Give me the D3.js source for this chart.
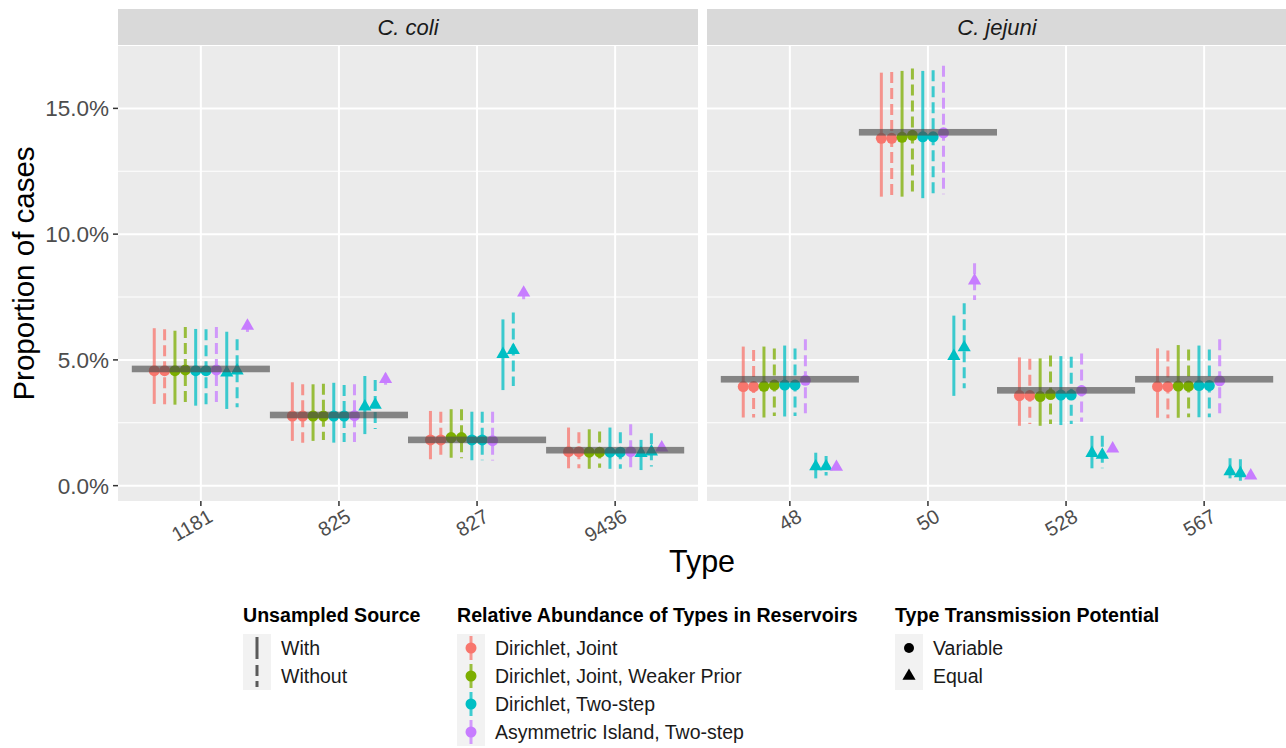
<!DOCTYPE html>
<html>
<head>
<meta charset="utf-8">
<script src="https://cdnjs.cloudflare.com/ajax/libs/d3/7.8.5/d3.min.js"></script>
<style>
  body { margin: 0; background: #ffffff; }
  svg { display: block; font-family: "Liberation Sans", Arial, Helvetica, sans-serif; }
</style>
</head>
<body>
<div id="chart"></div>
<script>
// --- data (percent of cases) ---
var species = ["C. coli", "C. jejuni"];
var typesColi = ["1181", "825", "827", "9436"];
var typesJejuni = ["48", "50", "528", "567"];

// observed proportion per type (grey bars), coli then jejuni
var observedColi = [4.64, 2.81, 1.82, 1.41];
var observedJejuni = [4.23, 14.05, 3.79, 4.23];

var models = ["Dirichlet, Joint", "Dirichlet, Joint, Weaker Prior", "Dirichlet, Two-step", "Asymmetric Island, Two-step"];
var sources = ["With", "Without"];
var potentials = ["Variable", "Equal"];

// one entry per dodged series, left to right inside each type
var seriesModel = [0, 0, 1, 1, 2, 2, 3, 2, 2, 3];
var seriesSource = ["With", "Without", "With", "Without", "With", "Without", "Without", "With", "Without", "Without"];
var seriesPotential = ["Variable", "Variable", "Variable", "Variable", "Variable", "Variable", "Variable", "Equal", "Equal", "Equal"];

// columns: 1181, 825, 827, 9436, 48, 50, 528, 567
var estimate = [
  [4.57, 2.77, 1.82, 1.35, 3.94, 13.81, 3.58, 3.94],
  [4.57, 2.77, 1.82, 1.35, 3.94, 13.81, 3.58, 3.94],
  [4.57, 2.77, 1.91, 1.33, 3.95, 13.85, 3.54, 3.96],
  [4.60, 2.77, 1.91, 1.33, 4.00, 13.93, 3.62, 3.96],
  [4.57, 2.77, 1.82, 1.33, 4.00, 13.87, 3.60, 3.98],
  [4.57, 2.77, 1.82, 1.33, 4.00, 13.87, 3.60, 3.98],
  [4.60, 2.78, 1.79, 1.35, 4.19, 14.03, 3.78, 4.17],
  [4.49, 3.14, 5.23, 1.29, 0.76, 5.15, 1.29, 0.56],
  [4.57, 3.21, 5.39, 1.35, 0.76, 5.49, 1.22, 0.49],
  [6.35, 4.23, 7.67, 1.51, 0.74, 8.15, 1.47, 0.40]
];
var lower = [
  [3.25, 1.78, 1.05, 0.69, 2.71, 11.49, 2.38, 2.70],
  [3.22, 1.71, 1.08, 0.69, 2.71, 11.46, 2.45, 2.68],
  [3.22, 1.78, 1.11, 0.67, 2.71, 11.49, 2.38, 2.70],
  [3.22, 1.82, 1.09, 0.71, 2.77, 11.62, 2.45, 2.72],
  [3.18, 1.71, 1.01, 0.67, 2.75, 11.43, 2.41, 2.72],
  [3.18, 1.74, 1.01, 0.67, 2.77, 11.51, 2.45, 2.72],
  [3.22, 1.74, 1.00, 0.67, 2.88, 11.59, 2.54, 2.88],
  [3.05, 2.05, 3.80, 0.62, 0.29, 3.57, 0.69, 0.29],
  [3.12, 2.25, 3.96, 0.76, 0.40, 3.87, 0.69, 0.20],
  [5.92, 3.91, 7.38, 1.45, 0.68, 7.38, 1.40, 0.35]
];
var upper = [
  [6.26, 4.11, 2.97, 2.31, 5.53, 16.42, 5.10, 5.46],
  [6.22, 4.03, 2.94, 2.12, 5.39, 16.45, 5.05, 5.37],
  [6.16, 4.03, 3.04, 2.24, 5.53, 16.49, 5.06, 5.59],
  [6.31, 4.05, 3.04, 2.15, 5.45, 16.59, 5.17, 5.41],
  [6.23, 4.09, 2.94, 2.31, 5.57, 16.49, 5.15, 5.57],
  [6.22, 4.00, 2.94, 2.12, 5.45, 16.52, 5.13, 5.41],
  [6.31, 4.03, 2.94, 2.44, 5.82, 16.69, 5.25, 5.82],
  [6.12, 4.36, 6.61, 1.82, 1.31, 6.76, 1.98, 1.09],
  [5.82, 4.20, 6.88, 2.08, 1.18, 7.25, 1.98, 1.05],
  [6.55, 4.45, 7.85, 1.58, 0.82, 8.84, 1.55, 0.45]
];

var yTicks = [0, 5, 10, 15];
var yMinor = [2.5, 7.5, 12.5];

// --- layout ---
var W = 1286, H = 748;
var panelW = 580;
var panelLeft = [118, 707];
var panelTop = 46, panelBottom = 501;
var stripTop = 9;

var colors = ["#F8766D", "#7CAE00", "#00BFC4", "#C77CFF"];
var dashes = { "With": null, "Without": "11,5" };

var svg = d3.select("#chart")
  .append("svg")
  .attr("width", W)
  .attr("height", H);

var y = d3.scaleLinear()
  .domain([-0.61, 17.48])
  .range([panelBottom, panelTop]);

var panelTypes = [typesColi, typesJejuni];
var panelObserved = [observedColi, observedJejuni];
var nSeries = seriesModel.length;
var dodgeWidth = 0.75;

species.forEach(function(sp, p) {
  var types = panelTypes[p];
  var x = d3.scalePoint()
    .domain(types)
    .range([0, panelW])
    .padding(0.6);
  var step = x.step();

  var g = svg.append("g")
    .attr("transform", "translate(" + panelLeft[p] + ",0)");

  // strip
  g.append("rect")
    .attr("x", 0).attr("y", stripTop)
    .attr("width", panelW).attr("height", panelTop - stripTop - 1)
    .attr("fill", "#D9D9D9");
  g.append("text")
    .attr("x", panelW / 2).attr("y", 35)
    .attr("text-anchor", "middle")
    .attr("font-size", 22)
    .attr("font-style", "italic")
    .attr("fill", "#1a1a1a")
    .text(sp);

  // panel background + grid
  g.append("rect")
    .attr("x", 0).attr("y", panelTop)
    .attr("width", panelW).attr("height", panelBottom - panelTop)
    .attr("fill", "#EBEBEB");

  g.selectAll(".minor")
    .data(yMinor)
    .enter()
    .append("line")
    .attr("x1", 0).attr("x2", panelW)
    .attr("y1", function(d) { return y(d); })
    .attr("y2", function(d) { return y(d); })
    .attr("stroke", "#ffffff")
    .attr("stroke-width", 1);

  g.selectAll(".major")
    .data(yTicks)
    .enter()
    .append("line")
    .attr("x1", 0).attr("x2", panelW)
    .attr("y1", function(d) { return y(d); })
    .attr("y2", function(d) { return y(d); })
    .attr("stroke", "#ffffff")
    .attr("stroke-width", 2);

  g.selectAll(".vgrid")
    .data(types)
    .enter()
    .append("line")
    .attr("x1", function(d) { return x(d); })
    .attr("x2", function(d) { return x(d); })
    .attr("y1", panelTop).attr("y2", panelBottom)
    .attr("stroke", "#ffffff")
    .attr("stroke-width", 2);

  // x axis ticks + rotated labels
  g.selectAll(".xtick")
    .data(types)
    .enter()
    .append("line")
    .attr("x1", function(d) { return x(d); })
    .attr("x2", function(d) { return x(d); })
    .attr("y1", panelBottom).attr("y2", panelBottom + 5)
    .attr("stroke", "#333333")
    .attr("stroke-width", 1.5);

  g.selectAll(".xlab")
    .data(types)
    .enter()
    .append("text")
    .attr("transform", function(d) { return "translate(" + (x(d) + 6) + "," + (panelBottom + 7) + ") rotate(-30)"; })
    .attr("text-anchor", "end")
    .attr("dominant-baseline", "hanging")
    .attr("font-size", 20)
    .attr("fill", "#4d4d4d")
    .text(function(d) { return d; });

  // flatten the estimates for this panel
  var marks = [];
  for (var s = 0; s < nSeries; s++) {
    types.forEach(function(t, i) {
      var col = p * 4 + i;
      marks.push({
        type: t, slot: s,
        est: estimate[s][col], lo: lower[s][col], hi: upper[s][col],
        color: colors[seriesModel[s]],
        source: seriesSource[s],
        potential: seriesPotential[s]
      });
    });
  }

  function mx(d) {
    return x(d.type) + (d.slot - (nSeries - 1) / 2) * step * dodgeWidth / nSeries;
  }

  g.selectAll(".err")
    .data(marks)
    .enter()
    .append("line")
    .attr("x1", mx).attr("x2", mx)
    .attr("y1", function(d) { return y(d.hi); })
    .attr("y2", function(d) { return y(d.lo); })
    .attr("stroke", function(d) { return d.color; })
    .attr("stroke-width", 3)
    .attr("stroke-opacity", 0.75)
    .attr("stroke-dasharray", function(d) { return dashes[d.source]; });

  g.selectAll(".pt")
    .data(marks.filter(function(d) { return d.potential === "Variable"; }))
    .enter()
    .append("circle")
    .attr("cx", mx)
    .attr("cy", function(d) { return y(d.est); })
    .attr("r", 5.5)
    .attr("fill", function(d) { return d.color; });

  g.selectAll(".tri")
    .data(marks.filter(function(d) { return d.potential === "Equal"; }))
    .enter()
    .append("path")
    .attr("d", d3.symbol().type(d3.symbolTriangle).size(75))
    .attr("transform", function(d) { return "translate(" + mx(d) + "," + y(d.est) + ")"; })
    .attr("fill", function(d) { return d.color; });

  // observed proportion, drawn over the estimates
  g.selectAll(".obs")
    .data(panelObserved[p])
    .enter()
    .append("rect")
    .attr("x", function(d, i) { return x(types[i]) - step / 2; })
    .attr("y", function(d) { return y(d) - 3.3; })
    .attr("width", step)
    .attr("height", 6.6)
    .attr("fill", "#4d4d4d")
    .attr("fill-opacity", 0.65);
});

// y axis
var yAxis = svg.append("g");
yAxis.selectAll("line")
  .data(yTicks)
  .enter()
  .append("line")
  .attr("x1", panelLeft[0] - 5).attr("x2", panelLeft[0])
  .attr("y1", function(d) { return y(d); })
  .attr("y2", function(d) { return y(d); })
  .attr("stroke", "#333333")
  .attr("stroke-width", 1.5);
yAxis.selectAll("text")
  .data(yTicks)
  .enter()
  .append("text")
  .attr("x", panelLeft[0] - 9)
  .attr("y", function(d) { return y(d); })
  .attr("dy", "0.36em")
  .attr("text-anchor", "end")
  .attr("font-size", 22.5)
  .attr("fill", "#4d4d4d")
  .text(function(d) { return d3.format(".1f")(d) + "%"; });

// axis titles
svg.append("text")
  .attr("x", (panelLeft[0] + W) / 2)
  .attr("y", 572)
  .attr("text-anchor", "middle")
  .attr("font-size", 30.5)
  .attr("fill", "#000000")
  .text("Type");

svg.append("text")
  .attr("transform", "translate(34," + (panelTop + panelBottom) / 2 + ") rotate(-90)")
  .attr("text-anchor", "middle")
  .attr("font-size", 29.5)
  .attr("fill", "#000000")
  .text("Proportion of cases");

// --- legends ---
var keyH = 28, keyW = 28;
var legTop = 634;

function legendBlock(x0, title, labels, drawKey) {
  var lg = svg.append("g").attr("transform", "translate(" + x0 + ",0)");
  lg.append("text")
    .attr("x", 0).attr("y", 622)
    .attr("font-size", 19.6)
    .attr("font-weight", "bold")
    .attr("fill", "#000000")
    .text(title);
  lg.append("rect")
    .attr("x", 0).attr("y", legTop)
    .attr("width", keyW).attr("height", keyH * labels.length)
    .attr("fill", "#F2F2F2");
  labels.forEach(function(lab, i) {
    var cy = legTop + keyH * i + keyH / 2;
    drawKey(lg, i, keyW / 2, cy);
    lg.append("text")
      .attr("x", keyW + 10)
      .attr("y", cy)
      .attr("dy", "0.36em")
      .attr("font-size", 19.5)
      .attr("fill", "#1a1a1a")
      .text(lab);
  });
}

legendBlock(243, "Unsampled Source", sources, function(lg, i, cx, cy) {
  lg.append("line")
    .attr("x1", cx).attr("x2", cx)
    .attr("y1", cy - 11).attr("y2", cy + 11)
    .attr("stroke", "#333333")
    .attr("stroke-opacity", 0.8)
    .attr("stroke-width", 3)
    .attr("stroke-dasharray", dashes[sources[i]]);
});

legendBlock(457, "Relative Abundance of Types in Reservoirs", models, function(lg, i, cx, cy) {
  lg.append("line")
    .attr("x1", cx).attr("x2", cx)
    .attr("y1", cy - 12).attr("y2", cy + 12)
    .attr("stroke", colors[i])
    .attr("stroke-opacity", 0.75)
    .attr("stroke-width", 3);
  lg.append("circle")
    .attr("cx", cx).attr("cy", cy)
    .attr("r", 5.5)
    .attr("fill", colors[i]);
});

legendBlock(895, "Type Transmission Potential", potentials, function(lg, i, cx, cy) {
  if (potentials[i] === "Variable") {
    lg.append("circle")
      .attr("cx", cx).attr("cy", cy)
      .attr("r", 5)
      .attr("fill", "#000000");
  } else {
    lg.append("path")
      .attr("d", d3.symbol().type(d3.symbolTriangle).size(75))
      .attr("transform", "translate(" + cx + "," + cy + ")")
      .attr("fill", "#000000");
  }
});
</script>
</body>
</html>
